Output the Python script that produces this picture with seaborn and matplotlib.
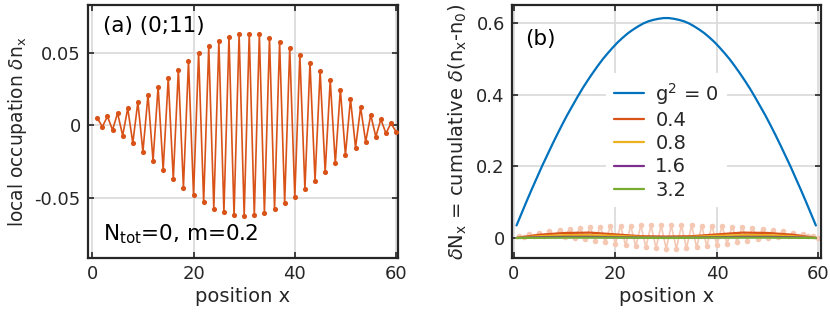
import numpy as np
import pandas as pd
import matplotlib
matplotlib.use("Agg")
import matplotlib.pyplot as plt
from matplotlib.lines import Line2D
import seaborn as sns

# panel (a): local occupation per site
sites = np.arange(1, 61)
dn_local = [0.0048, -0.0009, 0.0062, -0.0032, 0.0085, -0.0071, 0.0118, -0.0122, 0.0161, -0.0182,
            0.0210, -0.0244, 0.0267, -0.0306, 0.0325, -0.0371, 0.0385, -0.0431, 0.0442, -0.0482,
            0.0500, -0.0530, 0.0544, -0.0574, 0.0581, -0.0599, 0.0611, -0.0620, 0.0629, -0.0622,
            0.0631, -0.0620, 0.0627, -0.0604, 0.0604, -0.0578, 0.0574, -0.0535, 0.0535, -0.0493,
            0.0488, -0.0440, 0.0433, -0.0382, 0.0376, -0.0323, 0.0311, -0.0263, 0.0247, -0.0205,
            0.0182, -0.0154, 0.0124, -0.0113, 0.0071, -0.0078, 0.0041, -0.0055, 0.0014, -0.0044]

# panel (b): cumulative, g^2 = 0 on the bond grid
bonds = np.arange(0.5, 60, 1.0)
cum_g0 = [0.035, 0.069, 0.103, 0.136, 0.168, 0.200, 0.230, 0.260, 0.289, 0.317,
          0.344, 0.369, 0.394, 0.418, 0.440, 0.461, 0.481, 0.500, 0.517, 0.533,
          0.548, 0.561, 0.573, 0.583, 0.592, 0.600, 0.606, 0.610, 0.613, 0.615,
          0.615, 0.613, 0.610, 0.606, 0.600, 0.592, 0.583, 0.573, 0.561, 0.548,
          0.533, 0.517, 0.500, 0.481, 0.461, 0.440, 0.418, 0.394, 0.369, 0.344,
          0.317, 0.289, 0.260, 0.230, 0.200, 0.168, 0.136, 0.103, 0.069, 0.035]

# faded raw cumulative for g^2 = 0.4 (per site)
cum_raw = [0.005, 0.003, 0.010, 0.005, 0.015, 0.006, 0.019, 0.005, 0.023, 0.003,
           0.026, 0.000, 0.028, -0.004, 0.030, -0.008, 0.032, -0.012, 0.033, -0.016,
           0.034, -0.020, 0.034, -0.023, 0.035, -0.026, 0.035, -0.028, 0.035, -0.030,
           0.035, -0.030, 0.035, -0.028, 0.035, -0.026, 0.034, -0.023, 0.034, -0.020,
           0.033, -0.016, 0.032, -0.012, 0.030, -0.008, 0.028, -0.004, 0.026, 0.000,
           0.023, 0.003, 0.019, 0.005, 0.015, 0.006, 0.010, 0.005, 0.005, 0.001]

# smoothed cumulative curves for g^2 > 0
xs_small = [0.5, 5, 10, 15, 20, 25, 30, 35, 40, 45, 50, 55, 59.5]
cum_g04 = [0.0, 0.009, 0.014, 0.015, 0.010, 0.005, 0.004, 0.005, 0.010, 0.015, 0.014, 0.009, 0.0]
cum_g08 = [0.0, 0.005, 0.008, 0.008, 0.006, 0.003, 0.002, 0.003, 0.006, 0.008, 0.008, 0.005, 0.0]
cum_g16 = [0.0, 0.002, 0.003, 0.003, 0.002, 0.001, 0.001, 0.001, 0.002, 0.003, 0.003, 0.002, 0.0]
cum_g32 = [0.0, 0.0005, 0.001, 0.001, 0.001, 0.0005, 0.0, 0.0005, 0.001, 0.001, 0.001, 0.0005, 0.0]

g2_labels = ["g$^2$ = 0", "0.4", "0.8", "1.6", "3.2"]
colors = ["#0072BD", "#D95319", "#EDB120", "#7E2F8E", "#77AC30"]

sns.set_theme(style="ticks")
plt.rcParams["font.family"] = ["DejaVu Sans"]
plt.rcParams["mathtext.fontset"] = "dejavusans"
ink = "#262626"

fig = plt.figure(figsize=(8.3, 3.19), dpi=100)
ax1 = fig.add_axes([0.1057, 0.1912, 0.3733, 0.7931])
ax2 = fig.add_axes([0.6165, 0.1912, 0.3723, 0.7931])

# ---- panel (a)
df_a = pd.DataFrame({"x": sites, "dn": dn_local})
sns.lineplot(data=df_a, x="x", y="dn", ax=ax1, color="#D95319", linewidth=1.2,
             marker="o", markersize=3.7, markeredgewidth=0, zorder=3)
ax1.set_xlim(-0.9, 60.3)
ax1.set_ylim(-0.0915, 0.083)
ax1.set_yticks([-0.05, 0, 0.05])
ax1.set_yticklabels(["-0.05", "0", "0.05"])
ax1.set_ylabel(r"local occupation $\delta$n$_{\mathrm{x}}$", fontsize=13.4, color=ink, labelpad=4)
ax1.text(0.049, 0.955, "(a) (0;11)", transform=ax1.transAxes, ha="left", va="top",
         fontsize=15.5, color="black")
ax1.text(0.049, 0.068, r"N$_{\mathrm{tot}}$=0, m=0.2", transform=ax1.transAxes, ha="left",
         va="baseline", fontsize=15.5, color="black")

# ---- panel (b)
df_raw = pd.DataFrame({"x": sites, "v": cum_raw})
sns.lineplot(data=df_raw, x="x", y="v", ax=ax2, color="#F5C8B4", linewidth=1.2,
             marker="o", markersize=4, markeredgewidth=0, zorder=2)

frames = [pd.DataFrame({"x": bonds, "v": cum_g0, "g2": g2_labels[0]})]
for lab, vals in zip(g2_labels[1:], [cum_g04, cum_g08, cum_g16, cum_g32]):
    frames.append(pd.DataFrame({"x": xs_small, "v": vals, "g2": lab}))
df_b = pd.concat(frames, ignore_index=True)
sns.lineplot(data=df_b, x="x", y="v", hue="g2", hue_order=g2_labels, palette=colors,
             ax=ax2, linewidth=1.6, legend=False, estimator=None, sort=False, zorder=3)

ax2.set_xlim(-0.45, 60.45)
ax2.set_ylim(-0.056, 0.6515)
ax2.set_yticks([0, 0.2, 0.4, 0.6])
ax2.set_yticklabels(["0", "0.2", "0.4", "0.6"])
ax2.set_ylabel(r"$\delta$N$_{\mathrm{x}}$ = cumulative $\delta$(n$_{\mathrm{x}}$-n$_{\mathrm{0}}$)",
               fontsize=14, color=ink, labelpad=5)
ax2.text(0.043, 0.905, "(b)", transform=ax2.transAxes, ha="left", va="top", fontsize=15.5,
         color="black")

handles = [Line2D([], [], color=c, linewidth=1.6) for c in colors]
leg = ax2.legend(handles, g2_labels, loc="center", bbox_to_anchor=(0.5, 0.466),
                 frameon=True, fontsize=14, handlelength=1.55, handletextpad=0.6,
                 labelspacing=0.22, borderpad=0.4, fancybox=False)
leg.get_frame().set_facecolor("white")
leg.get_frame().set_edgecolor("none")
leg.get_frame().set_alpha(1)
leg.set_zorder(5)

for ax in (ax1, ax2):
    ax.set_xticks([0, 20, 40, 60])
    ax.set_xlabel("position x", fontsize=14, color=ink, labelpad=3)
    ax.grid(True, color="#DCDCDC", linewidth=1.3)
    ax.set_axisbelow(True)
    ax.tick_params(direction="in", length=4, width=1.2, top=True, right=True,
                   labelsize=13, colors=ink, pad=5)
    for sp in ax.spines.values():
        sp.set_visible(True)
        sp.set_linewidth(1.6)
        sp.set_color(ink)

fig.savefig("out.png", dpi=100)
